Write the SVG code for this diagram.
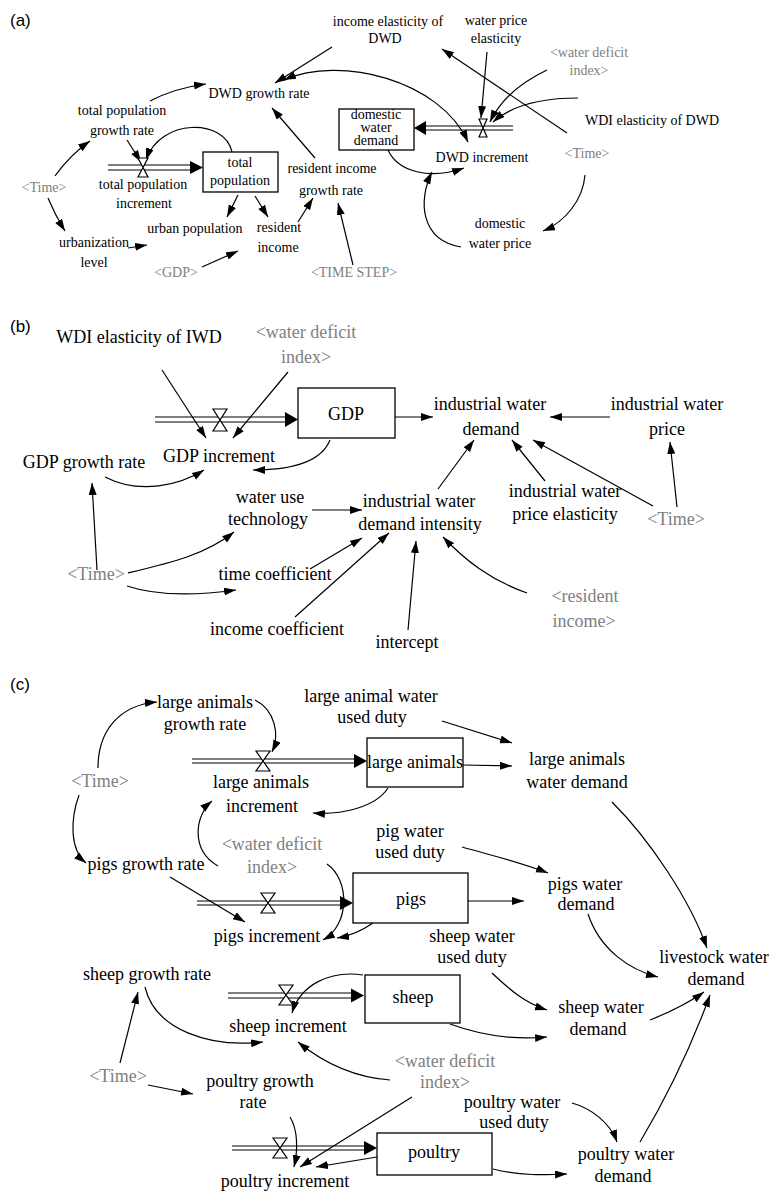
<svg xmlns="http://www.w3.org/2000/svg" width="773" height="1193" viewBox="0 0 773 1193">
<style>
text{fill:#000;text-anchor:middle}
.a text{font-size:14px}
.b text,.c text{font-size:18px}
text.g{fill:#808080}
text.lbl{font-size:17px;text-anchor:start}
.box{fill:#fff;stroke:#000;stroke-width:1.3}
.lk{fill:none;stroke:#000;stroke-width:1.2;marker-end:url(#ah)}
.pipe{fill:none;stroke:#000;stroke-width:1.2}
.ph{fill:#000}
.valve{fill:#fff;stroke:#000;stroke-width:1.2}
</style>
<defs>
<marker id="ah" markerUnits="userSpaceOnUse" markerWidth="13" markerHeight="9" refX="12" refY="4" orient="auto-start-reverse"><path d="M0,0 L12,4 L0,8 z" fill="#000"/></marker>
</defs>
<rect width="773" height="1193" fill="#fff"/>
<g font-family="'Liberation Sans', Arial, sans-serif">
<text class="lbl" x="10" y="26">(a)</text>
<text class="lbl" x="10" y="332">(b)</text>
<text class="lbl" x="10" y="690">(c)</text>
</g>

<g id="connectors">
<path class="pipe" d="M108,165 H192 M108,170 H192"/>
<polygon class="ph" points="190,161 203,167.5 190,174"/>
<path class="pipe" d="M513,126 H425 M513,130 H425"/>
<polygon class="ph" points="426,121 414,128 426,135"/>
<path class="lk" d="M55,176 Q70,155 90,141"/>
<path class="lk" d="M48,198 Q55,215 65,231"/>
<path class="lk" d="M150,101 Q175,88 206,84"/>
<path class="lk" d="M127,140 L141,162"/>
<path class="lk" d="M232,152 C225,118 160,118 146,160"/>
<path class="lk" d="M238,195 L227,217"/>
<path class="lk" d="M255,196 L268,217"/>
<path class="lk" d="M298,222 L313,198"/>
<path class="lk" d="M128,248 L147,245"/>
<path class="lk" d="M202,267 L238,251"/>
<path class="lk" d="M353,265 L338,203"/>
<path class="lk" d="M315,158 L272,108"/>
<path class="lk" d="M332,47 L275,83"/>
<path class="lk" style="marker-start:url(#ah)" d="M284,80 C340,55 440,80 468,142"/>
<path class="lk" d="M567,133 L442,49"/>
<path class="lk" d="M487,52 L481,118"/>
<path class="lk" d="M547,70 Q505,90 490,122"/>
<path class="lk" d="M578,98 Q520,98 493,122"/>
<path class="lk" d="M388,150 C398,172 430,180 464,168"/>
<path class="lk" d="M461,247 C420,240 418,200 432,172"/>
<path class="lk" d="M585,175 C583,200 565,222 543,231"/>
<path class="pipe" d="M155,417 H287 M155,422 H287"/>
<polygon class="ph" points="285,412 298,419.5 285,427"/>
<path class="lk" d="M162,370 L206,438"/>
<path class="lk" d="M288,372 L233,438"/>
<path class="lk" d="M330,440 C320,465 285,470 253,470"/>
<path class="lk" d="M105,477 C140,495 180,485 204,470"/>
<path class="lk" d="M97,570 L92,483"/>
<path class="lk" d="M128,573 C170,563 205,555 234,532"/>
<path class="lk" d="M127,586 C160,597 200,595 236,590"/>
<path class="lk" d="M312,510 L362,510"/>
<path class="lk" d="M310,569 L362,538"/>
<path class="lk" d="M295,617 L389,533"/>
<path class="lk" d="M408,630 L416,541"/>
<path class="lk" d="M527,593 C490,580 465,560 443,537"/>
<path class="lk" d="M438,489 L474,440"/>
<path class="lk" d="M545,481 L512,440"/>
<path class="lk" d="M653,506 L533,440"/>
<path class="lk" d="M677,507 L670,442"/>
<path class="lk" d="M610,417 L550,417"/>
<path class="lk" d="M395,417 L433,417"/>
<path class="pipe" d="M192,759 H355 M192,763 H355"/>
<polygon class="ph" points="354,754 367,761 354,768"/>
<path class="pipe" d="M197,901 H341 M197,905 H341"/>
<polygon class="ph" points="340,896 353,903 340,910"/>
<path class="pipe" d="M228,993 H352 M228,998 H352"/>
<polygon class="ph" points="351,988.5 364,995.5 351,1002.5"/>
<path class="pipe" d="M232,1146 H365 M232,1150 H365"/>
<polygon class="ph" points="364,1141 377,1148 364,1155"/>
<path class="lk" d="M98,768 C98,730 120,705 157,702"/>
<path class="lk" d="M79,795 C70,820 70,850 86,863"/>
<path class="lk" d="M255,700 C275,710 280,735 272,752"/>
<path class="lk" d="M388,788 C375,808 340,815 313,813"/>
<path class="lk" d="M218,866 C190,850 195,815 212,801"/>
<path class="lk" d="M442,721 L512,743"/>
<path class="lk" d="M463,765 L512,766"/>
<path class="lk" d="M612,802 C650,840 690,900 707,948"/>
<path class="lk" d="M170,877 L245,922"/>
<path class="lk" d="M327,864 C350,880 350,925 323,940"/>
<path class="lk" d="M373,923 C360,932 350,936 337,938"/>
<path class="lk" d="M462,847 C490,855 520,862 548,873"/>
<path class="lk" d="M468,901 L524,901"/>
<path class="lk" d="M588,914 C600,950 630,970 658,977"/>
<path class="lk" d="M120,1063 L138,992"/>
<path class="lk" d="M145,987 C155,1030 210,1048 263,1042"/>
<path class="lk" d="M363,975 C330,970 300,985 292,1013"/>
<path class="lk" d="M390,1080 C350,1077 320,1060 298,1042"/>
<path class="lk" d="M492,973 C510,990 525,1003 547,1010"/>
<path class="lk" d="M450,1024 C480,1035 515,1040 547,1037"/>
<path class="lk" d="M650,1020 C670,1012 690,1002 704,992"/>
<path class="lk" d="M148,1085 L193,1094"/>
<path class="lk" d="M290,1117 C298,1130 298,1150 294,1167"/>
<path class="lk" d="M412,1097 L300,1167"/>
<path class="lk" d="M377,1157 L316,1167"/>
<path class="lk" d="M572,1103 C590,1108 610,1122 617,1142"/>
<path class="lk" d="M493,1169 C520,1176 545,1175 567,1174"/>
<path class="lk" d="M640,1142 C665,1100 690,1050 710,995"/>
</g>

<g font-family="'Liberation Serif', 'Times New Roman', 'DejaVu Serif', serif">
<g class="a">
<g id="income-elasticity-dwd"><text x="388" y="26">income elasticity of</text><text x="385" y="43">DWD</text></g>
<g id="water-price-elasticity"><text x="496" y="25">water price</text><text x="496" y="43">elasticity</text></g>
<g id="wdi-a"><text class="g" x="589" y="57">&lt;water deficit</text><text class="g" x="589" y="75">index&gt;</text></g>
<g id="wdi-elasticity-dwd"><text x="652" y="125">WDI elasticity of DWD</text></g>
<g id="time-a2"><text class="g" x="587" y="158">&lt;Time&gt;</text></g>
<g id="domestic-water-price"><text x="500" y="228">domestic</text><text x="500" y="248">water price</text></g>
<g id="dwd-increment"><path class="valve" d="M479,119 H487 L479,137 H487 Z"/><text x="482" y="162">DWD increment</text></g>
<g id="domestic-water-demand"><rect class="box" x="339" y="109" width="75" height="41"/><text x="376" y="119" font-size="11">domestic</text><text x="376" y="132" font-size="11">water</text><text x="376" y="145" font-size="11">demand</text></g>
<g id="dwd-growth-rate"><text x="259" y="98">DWD growth rate</text></g>
<g id="total-population-growth-rate"><text x="122" y="115">total population</text><text x="122" y="135">growth rate</text></g>
<g id="time-a1"><text class="g" x="44" y="192">&lt;Time&gt;</text></g>
<g id="total-population"><rect class="box" x="203" y="152" width="75" height="40"/><text x="240" y="167">total</text><text x="240" y="185">population</text></g>
<g id="total-population-increment"><path class="valve" d="M138,158 H148 L138,177 H148 Z"/><text x="143" y="189">total population</text><text x="144" y="208">increment</text></g>
<g id="resident-income-growth-rate"><text x="332" y="173">resident income</text><text x="331" y="195">growth rate</text></g>
<g id="urban-population"><text x="195" y="233">urban population</text></g>
<g id="resident-income"><text x="279" y="232">resident</text><text x="278" y="252">income</text></g>
<g id="urbanization-level"><text x="94" y="247">urbanization</text><text x="94" y="267">level</text></g>
<g id="gdp-a"><text class="g" x="176" y="277">&lt;GDP&gt;</text></g>
<g id="time-step"><text class="g" x="354" y="277">&lt;TIME STEP&gt;</text></g>
</g>

<g class="b">
<g id="wdi-elasticity-iwd"><text x="139" y="343">WDI elasticity of IWD</text></g>
<g id="wdi-b"><text class="g" x="306" y="338">&lt;water deficit</text><text class="g" x="306" y="363">index&gt;</text></g>
<g id="gdp"><rect class="box" x="298" y="388" width="97" height="50"/><text x="346" y="420">GDP</text></g>
<g id="gdp-increment"><path class="valve" d="M213,409 H227 L213,431 H227 Z"/><text x="219" y="462">GDP increment</text></g>
<g id="gdp-growth-rate"><text x="84" y="468">GDP growth rate</text></g>
<g id="water-use-technology"><text x="270" y="503">water use</text><text x="268" y="525">technology</text></g>
<g id="time-b1"><text class="g" x="96" y="580">&lt;Time&gt;</text></g>
<g id="time-coefficient"><text x="275" y="580">time coefficient</text></g>
<g id="income-coefficient"><text x="277" y="635">income coefficient</text></g>
<g id="industrial-water-demand"><text x="490" y="410">industrial water</text><text x="491" y="435">demand</text></g>
<g id="industrial-water-price"><text x="667" y="410">industrial water</text><text x="667" y="435">price</text></g>
<g id="iwd-intensity"><text x="419" y="507">industrial water</text><text x="420" y="530">demand intensity</text></g>
<g id="iwp-elasticity"><text x="565" y="497">industrial water</text><text x="565" y="520">price elasticity</text></g>
<g id="time-b2"><text class="g" x="676" y="525">&lt;Time&gt;</text></g>
<g id="resident-income-b"><text class="g" x="585" y="602">&lt;resident</text><text class="g" x="584" y="627">income&gt;</text></g>
<g id="intercept"><text x="407" y="648">intercept</text></g>
</g>

<g class="c">
<g id="large-animals-growth-rate"><text x="205" y="708">large animals</text><text x="205" y="730">growth rate</text></g>
<g id="large-animal-duty"><text x="371" y="702">large animal water</text><text x="372" y="723">used duty</text></g>
<g id="time-c1"><text class="g" x="100" y="787">&lt;Time&gt;</text></g>
<g id="large-animals"><rect class="box" x="367" y="738" width="96" height="49"/><text x="415" y="768">large animals</text></g>
<g id="large-animals-increment"><path class="valve" d="M256,751 H270 L256,771 H270 Z"/><text x="261" y="788">large animals</text><text x="262" y="812">increment</text></g>
<g id="large-animals-water-demand"><text x="577" y="765">large animals</text><text x="577" y="788">water demand</text></g>
<g id="pig-duty"><text x="410" y="837">pig water</text><text x="410" y="858">used duty</text></g>
<g id="pigs-growth-rate"><text x="146" y="870">pigs growth rate</text></g>
<g id="wdi-c1"><text class="g" x="272" y="850">&lt;water deficit</text><text class="g" x="272" y="873">index&gt;</text></g>
<g id="pigs"><rect class="box" x="353" y="873" width="115" height="50"/><text x="411" y="905">pigs</text></g>
<g id="pigs-increment"><path class="valve" d="M261,893 H275 L261,913 H275 Z"/><text x="267" y="942">pigs increment</text></g>
<g id="pigs-water-demand"><text x="585" y="890" font-size="17.5">pigs water</text><text x="586" y="910" font-size="17.5">demand</text></g>
<g id="sheep-duty"><text x="472" y="942">sheep water</text><text x="472" y="963">used duty</text></g>
<g id="livestock-water-demand"><text x="714" y="963">livestock water</text><text x="716" y="985">demand</text></g>
<g id="sheep-growth-rate"><text x="147" y="980">sheep growth rate</text></g>
<g id="sheep"><rect class="box" x="365" y="975" width="95" height="48"/><text x="413" y="1003">sheep</text></g>
<g id="sheep-increment"><path class="valve" d="M279,985 H293 L279,1005 H293 Z"/><text x="288" y="1032">sheep increment</text></g>
<g id="sheep-water-demand"><text x="601" y="1013">sheep water</text><text x="598" y="1035">demand</text></g>
<g id="time-c2"><text class="g" x="118" y="1082">&lt;Time&gt;</text></g>
<g id="poultry-growth-rate"><text x="260" y="1087">poultry growth</text><text x="253" y="1108">rate</text></g>
<g id="wdi-c2"><text class="g" x="445" y="1067">&lt;water deficit</text><text class="g" x="445" y="1088">index&gt;</text></g>
<g id="poultry-duty"><text x="512" y="1108" font-size="17.5">poultry water</text><text x="514" y="1128" font-size="17.5">used duty</text></g>
<g id="poultry"><rect class="box" x="377" y="1133" width="115" height="42"/><text x="434" y="1158">poultry</text></g>
<g id="poultry-increment"><path class="valve" d="M273,1138 H287 L273,1158 H287 Z"/><text x="285" y="1187">poultry increment</text></g>
<g id="poultry-water-demand"><text x="626" y="1160">poultry water</text><text x="623" y="1182">demand</text></g>
</g>
</g>
</svg>
